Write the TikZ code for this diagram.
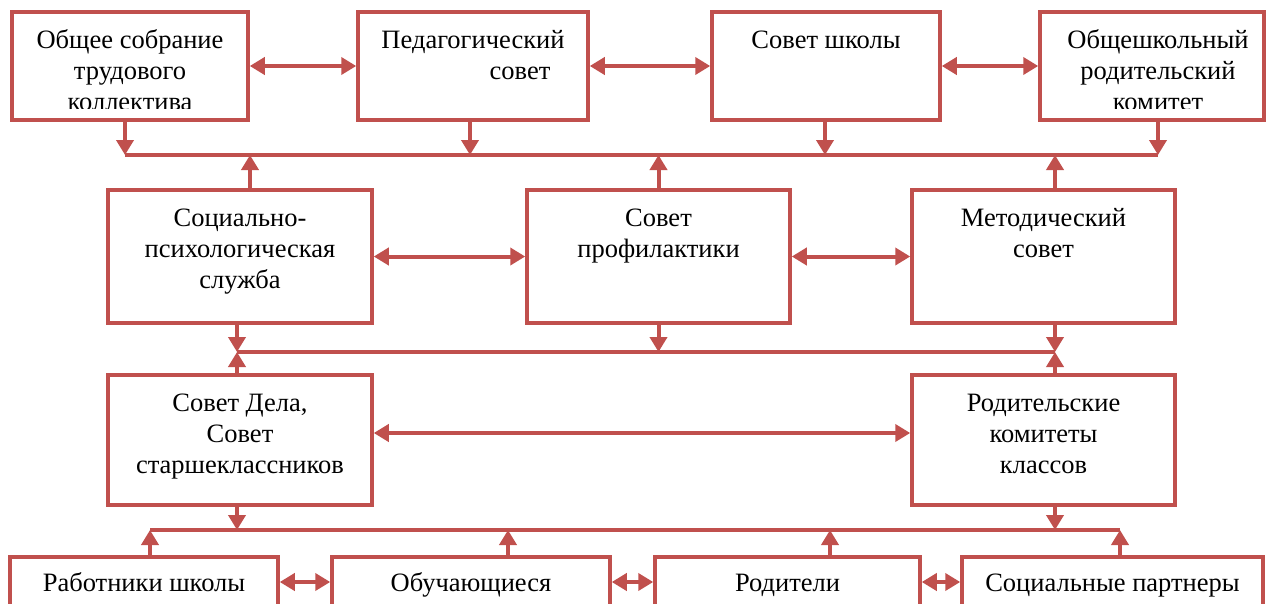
\documentclass[tikz,border=0pt]{standalone}
\usepackage{fontspec}
\setmainfont{Liberation Serif}
\usetikzlibrary{arrows.meta}
\definecolor{brd}{HTML}{C0504D}
\tikzset{
 box/.style={draw=brd, line width=3.5pt, inner sep=0pt},
 txt/.style={anchor=north, inner sep=0pt, align=center, font=\fontsize{26.5}{31}\selectfont},
 conn/.style={draw=brd, line width=4pt},
 arr/.style={conn, -{Triangle[length=15pt,width=17pt]}},
 darr/.style={conn, {Triangle[length=15pt,width=17pt]}-{Triangle[length=15pt,width=17pt]}},
 bus/.style={draw=brd, line width=3.5pt},
}
\newcommand\fl{\rule{0pt}{24pt}}
\begin{document}
\begin{tikzpicture}[x=1pt,y=-1pt]
\useasboundingbox (0,0) rectangle (1267,603);
% row 1
\node[box, minimum width=236pt, minimum height=108pt] (A) at (130,66) {};
\node[box, minimum width=230pt, minimum height=108pt] (B) at (473,66) {};
\node[box, minimum width=228pt, minimum height=108pt] (C) at (826,66) {};
\node[box, minimum width=224pt, minimum height=108pt] (D) at (1152,66) {};
% row 2
\node[box, minimum width=264pt, minimum height=133pt] (E) at (240,256.5) {};
\node[box, minimum width=263pt, minimum height=133pt] (F) at (658.5,256.5) {};
\node[box, minimum width=263pt, minimum height=133pt] (G) at (1043.5,256.5) {};
% row 3
\node[box, minimum width=264pt, minimum height=130pt] (H) at (240,440) {};
\node[box, minimum width=263pt, minimum height=130pt] (I) at (1043.5,440) {};
% row 4
\node[box, minimum width=268pt, minimum height=70pt] (J) at (144,592) {};
\node[box, minimum width=278pt, minimum height=70pt] (K) at (471,592) {};
\node[box, minimum width=265pt, minimum height=70pt] (L) at (787.5,592) {};
\node[box, minimum width=301pt, minimum height=70pt] (M) at (1112.5,592) {};
% texts
\begin{scope}
\clip (0,0) rectangle (1267,108);
\node[txt] (At) at ([yshift=-14pt]A.north) {\fl Общее собрание\\трудового\\коллектива};
\node[txt] (Bt) at ([yshift=-14pt]B.north) {\fl Педагогический\\\hspace*{94pt}совет};
\node[txt] (Ct) at ([yshift=-14pt]C.north) {\fl Совет школы};
\node[txt] (Dt) at ([yshift=-14pt,xshift=6pt]D.north) {\fl Общешкольный\\родительский\\комитет};
\end{scope}
\node[txt] (Et) at ([yshift=-14pt]E.north) {\fl Социально-\\психологическая\\служба};
\node[txt] (Ft) at ([yshift=-14pt]F.north) {\fl Совет\\профилактики};
\node[txt] (Gt) at ([yshift=-14pt]G.north) {\fl Методический\\совет};
\node[txt] (Ht) at ([yshift=-14pt]H.north) {\fl Совет Дела,\\Совет\\старшеклассников};
\node[txt] (It) at ([yshift=-14pt]I.north) {\fl Родительские\\комитеты\\классов};
\node[txt] (Jt) at ([yshift=-12pt]J.north) {\fl Работники школы};
\node[txt] (Kt) at ([yshift=-12pt]K.north) {\fl Обучающиеся};
\node[txt] (Lt) at ([yshift=-12pt]L.north) {\fl Родители};
\node[txt] (Mt) at ([yshift=-12pt]M.north) {\fl Социальные партнеры};
% horizontal double arrows
\draw[darr] (A) -- (B);
\draw[darr] (B) -- (C);
\draw[darr] (C) -- (D);
\draw[darr] (E) -- (F);
\draw[darr] (F) -- (G);
\draw[darr] ([yshift=7pt]H.east) -- ([yshift=7pt]I.west);
\draw[darr] ([yshift=10pt]J.east) -- ([yshift=10pt]K.west);
\draw[darr] ([yshift=10pt]K.east) -- ([yshift=10pt]L.west);
\draw[darr] ([yshift=10pt]L.east) -- ([yshift=10pt]M.west);
% bus 1
\coordinate (b1w) at (125,155);
\coordinate (b1e) at (1158,155);
\draw[bus] (b1w) -- (b1e);
\draw[arr] ([xshift=-5pt]A.south) -- ([xshift=-5pt]A.south |- b1w);
\draw[arr] ([xshift=-3pt]B.south) -- ([xshift=-3pt]B.south |- b1w);
\draw[arr] ([xshift=-1pt]C.south) -- ([xshift=-1pt]C.south |- b1w);
\draw[arr] ([xshift=6pt]D.south) -- ([xshift=6pt]D.south |- b1w);
\draw[arr] ([xshift=10pt]E.north) -- ([xshift=10pt]E.north |- b1w);
\draw[arr] (F.north) -- (F.north |- b1w);
\draw[arr] ([xshift=11.5pt]G.north) -- ([xshift=11.5pt]G.north |- b1w);
% bus 2
\coordinate (b2w) at (237,352);
\coordinate (b2e) at (1055,352);
\draw[bus] (b2w) -- (b2e);
\draw[arr] ([xshift=-3pt]E.south) -- ([xshift=-3pt]E.south |- b2w);
\draw[arr] (F.south) -- (F.south |- b2w);
\draw[arr] ([xshift=11.5pt]G.south) -- ([xshift=11.5pt]G.south |- b2w);
\draw[arr] ([xshift=-3pt]H.north) -- ([xshift=-3pt]H.north |- b2w);
\draw[arr] ([xshift=11.5pt]I.north) -- ([xshift=11.5pt]I.north |- b2w);
% bus 3
\coordinate (b3w) at (150,530);
\coordinate (b3e) at (1120,530);
\draw[bus] (b3w) -- (b3e);
\draw[arr] ([xshift=-3pt]H.south) -- ([xshift=-3pt]H.south |- b3w);
\draw[arr] ([xshift=11.5pt]I.south) -- ([xshift=11.5pt]I.south |- b3w);
\draw[arr] ([xshift=6pt]J.north) -- ([xshift=6pt]J.north |- b3w);
\draw[arr] ([xshift=37pt]K.north) -- ([xshift=37pt]K.north |- b3w);
\draw[arr] ([xshift=42.5pt]L.north) -- ([xshift=42.5pt]L.north |- b3w);
\draw[arr] ([xshift=7.5pt]M.north) -- ([xshift=7.5pt]M.north |- b3w);
\end{tikzpicture}
\end{document}
